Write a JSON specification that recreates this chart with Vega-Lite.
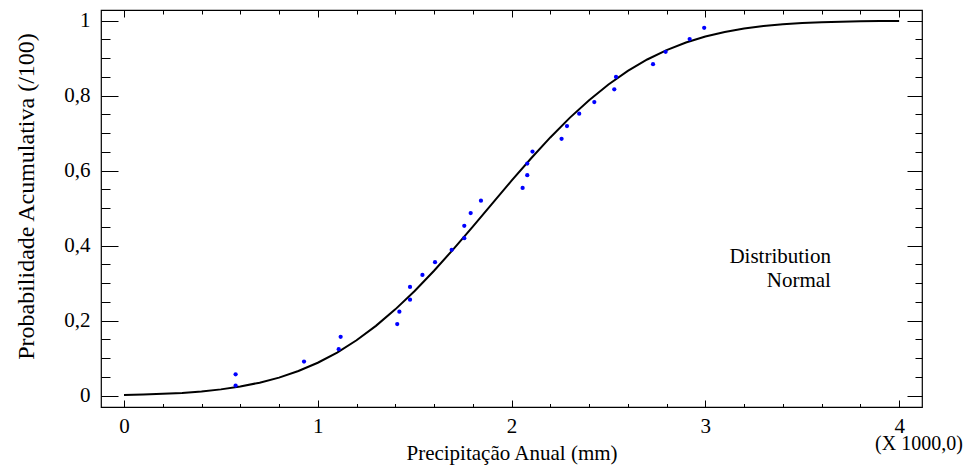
{
  "$schema": "https://vega.github.io/schema/vega-lite/v6.json",
  "width": 821,
  "height": 397,
  "autosize": {"type": "none"},
  "padding": {"left": 101, "top": 10, "right": 49, "bottom": 59},
  "background": "white",
  "config": {
    "font": "Liberation Serif",
    "view": {"stroke": "#000", "strokeWidth": 1.2},
    "axis": {
      "labelColor": "#000", "titleColor": "#000", "titleFontWeight": "normal",
      "labelFont": "Liberation Serif", "titleFont": "Liberation Serif",
      "domain": false, "grid": false, "ticks": true, "tickColor": "#000", "tickWidth": 1, "tickOpacity": 1, "offset": 0
    },
    "text": {"font": "Liberation Serif"}
  },
  "resolve": {"axis": {"x": "independent", "y": "independent"}},
  "datasets": {
    "curve": [
      {"mm": 0, "p": 0.0019}, {"mm": 100, "p": 0.0031}, {"mm": 200, "p": 0.0049}, {"mm": 300, "p": 0.0075},
      {"mm": 400, "p": 0.0114}, {"mm": 500, "p": 0.0169}, {"mm": 600, "p": 0.0245}, {"mm": 700, "p": 0.0348},
      {"mm": 800, "p": 0.0483}, {"mm": 900, "p": 0.0658}, {"mm": 1000, "p": 0.0879}, {"mm": 1100, "p": 0.1151},
      {"mm": 1200, "p": 0.1478}, {"mm": 1300, "p": 0.1862}, {"mm": 1400, "p": 0.2302}, {"mm": 1500, "p": 0.2794},
      {"mm": 1600, "p": 0.3333}, {"mm": 1700, "p": 0.3909}, {"mm": 1800, "p": 0.451}, {"mm": 1900, "p": 0.5123},
      {"mm": 2000, "p": 0.5733}, {"mm": 2100, "p": 0.6325}, {"mm": 2200, "p": 0.6887}, {"mm": 2300, "p": 0.7409},
      {"mm": 2400, "p": 0.7881}, {"mm": 2500, "p": 0.8299}, {"mm": 2600, "p": 0.866}, {"mm": 2700, "p": 0.8965},
      {"mm": 2800, "p": 0.9215}, {"mm": 2900, "p": 0.9417}, {"mm": 3000, "p": 0.9576}, {"mm": 3100, "p": 0.9697},
      {"mm": 3200, "p": 0.9789}, {"mm": 3300, "p": 0.9856}, {"mm": 3400, "p": 0.9903}, {"mm": 3500, "p": 0.9937},
      {"mm": 3600, "p": 0.9959}, {"mm": 3700, "p": 0.9974}, {"mm": 3800, "p": 0.9984}, {"mm": 3900, "p": 0.9991},
      {"mm": 4000, "p": 0.9995}
    ],
    "points": [
      {"mm": 576, "p": 0.027}, {"mm": 576, "p": 0.057}, {"mm": 929, "p": 0.091}, {"mm": 1108, "p": 0.124},
      {"mm": 1118, "p": 0.157}, {"mm": 1410, "p": 0.191}, {"mm": 1421, "p": 0.224}, {"mm": 1476, "p": 0.256},
      {"mm": 1476, "p": 0.29}, {"mm": 1540, "p": 0.322}, {"mm": 1605, "p": 0.356}, {"mm": 1691, "p": 0.389},
      {"mm": 1756, "p": 0.42}, {"mm": 1756, "p": 0.453}, {"mm": 1789, "p": 0.487}, {"mm": 1842, "p": 0.52},
      {"mm": 2057, "p": 0.554}, {"mm": 2081, "p": 0.588}, {"mm": 2081, "p": 0.619}, {"mm": 2108, "p": 0.651},
      {"mm": 2258, "p": 0.685}, {"mm": 2286, "p": 0.719}, {"mm": 2349, "p": 0.752}, {"mm": 2427, "p": 0.783},
      {"mm": 2530, "p": 0.817}, {"mm": 2539, "p": 0.85}, {"mm": 2730, "p": 0.884}, {"mm": 2795, "p": 0.917},
      {"mm": 2919, "p": 0.951}, {"mm": 2994, "p": 0.981}
    ]
  },
  "layer": [
    {
      "data": {"name": "curve"},
      "mark": {"type": "line", "color": "#000", "strokeWidth": 2},
      "encoding": {
        "x": {
          "field": "mm", "type": "quantitative",
          "scale": {"domain": [-118.7, 4118], "nice": false, "zero": false},
          "axis": {
            "orient": "bottom",
            "title": "Precipitação Anual (mm)",
            "values": [0, 1000, 2000, 3000, 4000],
            "tickSize": -7,
            "labelExpr": "format(datum.value/1000, 'd')",
            "labelFontSize": 21, "labelBaseline": "alphabetic", "labelPadding": 32,
            "labelFlush": false, "labelOverlap": false, "labelBound": false,
            "titleFontSize": 21, "titleBaseline": "alphabetic", "titleX": 410.5, "titleY": 52
          }
        },
        "y": {
          "field": "p", "type": "quantitative",
          "scale": {"domain": [-0.0301, 1.0285], "nice": false, "zero": false},
          "axis": {
            "orient": "left",
            "title": "Probabilidade Acumulativa (/100)",
            "values": [0, 0.2, 0.4, 0.6, 0.8, 1],
            "tickSize": -17,
            "labelExpr": "replace(format(datum.value, '.1~f'), '.', ',')",
            "labelFontSize": 21, "labelBaseline": "middle", "labelAlign": "right", "labelPadding": 28,
            "labelFlush": false, "labelOverlap": false, "labelBound": false,
            "titleFontSize": 24, "titleAngle": 270, "titleAlign": "center", "titleBaseline": "alphabetic",
            "titleX": -68, "titleY": 186
          }
        }
      }
    },
    {
      "data": {"name": "points"},
      "mark": {"type": "circle", "color": "#0000ff", "size": 18, "opacity": 1},
      "encoding": {
        "x": {
          "field": "mm", "type": "quantitative",
          "axis": {"orient": "top", "title": null, "labels": false, "values": [0, 1000, 2000, 3000, 4000], "tickSize": -7}
        },
        "y": {
          "field": "p", "type": "quantitative",
          "axis": {"orient": "right", "title": null, "labels": false, "values": [0, 0.2, 0.4, 0.6, 0.8, 1], "tickSize": -15}
        }
      }
    },
    {
      "data": {"values": [{}]},
      "mark": {"type": "text", "align": "right", "baseline": "alphabetic", "fontSize": 21, "lineHeight": 24, "color": "#000", "font": "Liberation Serif"},
      "encoding": {
        "x": {
          "datum": 3648,
          "axis": {"orient": "bottom", "title": null, "labels": false, "tickSize": -3.5,
            "values": [200, 400, 600, 800, 1200, 1400, 1600, 1800, 2200, 2400, 2600, 2800, 3200, 3400, 3600, 3800]}
        },
        "y": {
          "datum": 0.354,
          "axis": {"orient": "left", "title": null, "labels": false, "tickSize": -9,
            "values": [0.05, 0.1, 0.15, 0.25, 0.3, 0.35, 0.45, 0.5, 0.55, 0.65, 0.7, 0.75, 0.85, 0.9, 0.95]}
        },
        "text": {"value": ["Distribution", "Normal"]}
      }
    },
    {
      "data": {"values": [{}]},
      "mark": {"type": "text", "align": "center", "baseline": "middle", "fontSize": 20, "color": "#000", "font": "Liberation Serif"},
      "encoding": {
        "x": {
          "datum": 4102,
          "axis": {"orient": "top", "title": null, "labels": false, "tickSize": -4,
            "values": [200, 400, 600, 800, 1200, 1400, 1600, 1800, 2200, 2400, 2600, 2800, 3200, 3400, 3600, 3800]}
        },
        "y": {
          "datum": -0.13,
          "axis": {"orient": "right", "title": null, "labels": false, "tickSize": -7,
            "values": [0.05, 0.1, 0.15, 0.25, 0.3, 0.35, 0.45, 0.5, 0.55, 0.65, 0.7, 0.75, 0.85, 0.9, 0.95]}
        },
        "text": {"value": "(X 1000,0)"}
      }
    }
  ]
}
